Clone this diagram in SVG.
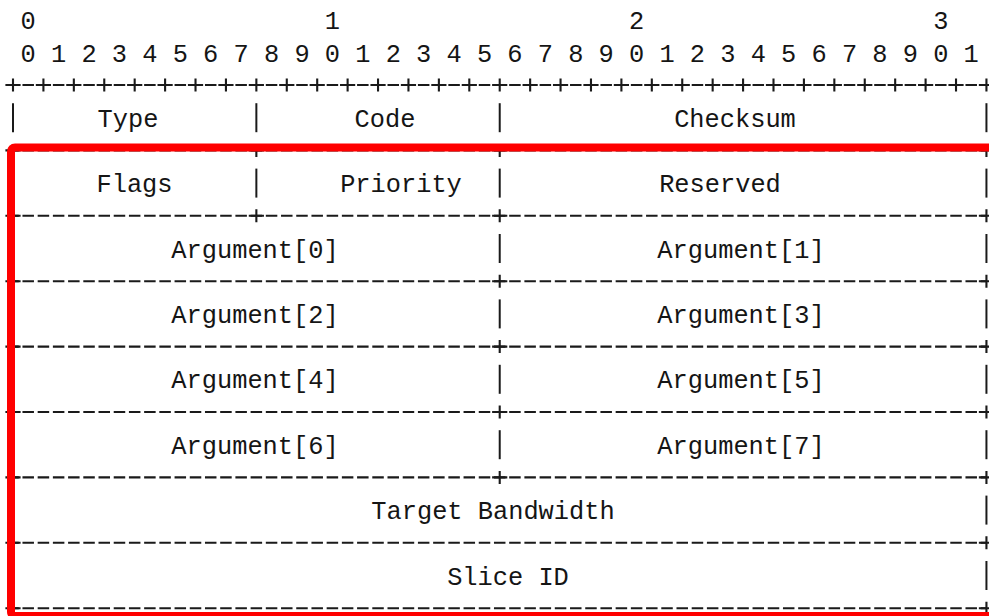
<svg xmlns="http://www.w3.org/2000/svg" xmlns:xlink="http://www.w3.org/1999/xlink" width="989" height="616" viewBox="0 0 989 616">
<style>
  text { font-family: "Liberation Mono", "DejaVu Sans Mono", monospace; font-size: 25.35px; fill: #151515; text-anchor: middle; }
  .rule { stroke: #1a1a1a; stroke-width: 2.1; fill: none; }
  .dash { stroke: #1a1a1a; stroke-width: 2.1; fill: none; stroke-dasharray: 11.5 3.71; stroke-dashoffset: 5.75; }
  .bar { stroke: #1a1a1a; stroke-width: 2; }
  .hl { fill: none; stroke: #ff0000; stroke-width: 8; }
</style>
<defs>
  <path id="plus" class="rule" d="M-7.6 0H7.6M0 -6.5V6.5"/>
  <line id="bar" class="bar" x1="0" y1="-14.5" x2="0" y2="14.5"/>
</defs>
<rect width="989" height="616" fill="#ffffff"/>

<g id="ruler">
  <text x="28.21 332.41 636.61 940.81" y="29.3">0123</text>
  <text x="28.21 58.63 89.05 119.47 149.89 180.31 210.73 241.15 271.57 301.99 332.41 362.83 393.25 423.67 454.09 484.51 514.93 545.35 575.77 606.19 636.61 667.03 697.45 727.87 758.29 788.71 819.13 849.55 879.97 910.39 940.81 971.23" y="61.5">01234567890123456789012345678901</text>
</g>

<g id="connectors">
  <!-- horizontal separators -->
  <path class="dash" d="M13 85H986.44M13 150.4H986.44M13 215.8H986.44M13 281.2H986.44M13 346.6H986.44M13 412H986.44M13 477.4H986.44M13 542.8H986.44M13 608.2H986.44"/>
  <!-- top ruler plus marks -->
  <use xlink:href="#plus" x="13" y="85"/><use xlink:href="#plus" x="43.42" y="85"/><use xlink:href="#plus" x="73.84" y="85"/><use xlink:href="#plus" x="104.26" y="85"/>
  <use xlink:href="#plus" x="134.68" y="85"/><use xlink:href="#plus" x="165.1" y="85"/><use xlink:href="#plus" x="195.52" y="85"/><use xlink:href="#plus" x="225.94" y="85"/>
  <use xlink:href="#plus" x="256.36" y="85"/><use xlink:href="#plus" x="286.78" y="85"/><use xlink:href="#plus" x="317.2" y="85"/><use xlink:href="#plus" x="347.62" y="85"/>
  <use xlink:href="#plus" x="378.04" y="85"/><use xlink:href="#plus" x="408.46" y="85"/><use xlink:href="#plus" x="438.88" y="85"/><use xlink:href="#plus" x="469.3" y="85"/>
  <use xlink:href="#plus" x="499.72" y="85"/><use xlink:href="#plus" x="530.14" y="85"/><use xlink:href="#plus" x="560.56" y="85"/><use xlink:href="#plus" x="590.98" y="85"/>
  <use xlink:href="#plus" x="621.4" y="85"/><use xlink:href="#plus" x="651.82" y="85"/><use xlink:href="#plus" x="682.24" y="85"/><use xlink:href="#plus" x="712.66" y="85"/>
  <use xlink:href="#plus" x="743.08" y="85"/><use xlink:href="#plus" x="773.5" y="85"/><use xlink:href="#plus" x="803.92" y="85"/><use xlink:href="#plus" x="834.34" y="85"/>
  <use xlink:href="#plus" x="864.76" y="85"/><use xlink:href="#plus" x="895.18" y="85"/><use xlink:href="#plus" x="925.6" y="85"/><use xlink:href="#plus" x="956.02" y="85"/>
  <use xlink:href="#plus" x="986.44" y="85"/>
  <!-- line under Type/Code/Checksum -->
  <use xlink:href="#plus" x="13" y="150.4"/><use xlink:href="#plus" x="256.36" y="150.4"/><use xlink:href="#plus" x="499.72" y="150.4"/><use xlink:href="#plus" x="986.44" y="150.4"/>
  <!-- line under Flags/Priority/Reserved -->
  <use xlink:href="#plus" x="13" y="215.8"/><use xlink:href="#plus" x="256.36" y="215.8"/><use xlink:href="#plus" x="499.72" y="215.8"/><use xlink:href="#plus" x="986.44" y="215.8"/>
  <!-- argument lines -->
  <use xlink:href="#plus" x="13" y="281.2"/><use xlink:href="#plus" x="499.72" y="281.2"/><use xlink:href="#plus" x="986.44" y="281.2"/>
  <use xlink:href="#plus" x="13" y="346.6"/><use xlink:href="#plus" x="499.72" y="346.6"/><use xlink:href="#plus" x="986.44" y="346.6"/>
  <use xlink:href="#plus" x="13" y="412"/><use xlink:href="#plus" x="499.72" y="412"/><use xlink:href="#plus" x="986.44" y="412"/>
  <use xlink:href="#plus" x="13" y="477.4"/><use xlink:href="#plus" x="499.72" y="477.4"/><use xlink:href="#plus" x="986.44" y="477.4"/>
  <use xlink:href="#plus" x="13" y="542.8"/><use xlink:href="#plus" x="986.44" y="542.8"/>
  <use xlink:href="#plus" x="13" y="608.2"/><use xlink:href="#plus" x="986.44" y="608.2"/>
  <!-- vertical bars -->
  <use xlink:href="#bar" x="13" y="117.7"/><use xlink:href="#bar" x="256.36" y="117.7"/><use xlink:href="#bar" x="499.72" y="117.7"/><use xlink:href="#bar" x="986.44" y="117.7"/>
  <use xlink:href="#bar" x="13" y="183.1"/><use xlink:href="#bar" x="256.36" y="183.1"/><use xlink:href="#bar" x="499.72" y="183.1"/><use xlink:href="#bar" x="986.44" y="183.1"/>
  <use xlink:href="#bar" x="13" y="248.5"/><use xlink:href="#bar" x="499.72" y="248.5"/><use xlink:href="#bar" x="986.44" y="248.5"/>
  <use xlink:href="#bar" x="13" y="313.9"/><use xlink:href="#bar" x="499.72" y="313.9"/><use xlink:href="#bar" x="986.44" y="313.9"/>
  <use xlink:href="#bar" x="13" y="379.3"/><use xlink:href="#bar" x="499.72" y="379.3"/><use xlink:href="#bar" x="986.44" y="379.3"/>
  <use xlink:href="#bar" x="13" y="444.7"/><use xlink:href="#bar" x="499.72" y="444.7"/><use xlink:href="#bar" x="986.44" y="444.7"/>
  <use xlink:href="#bar" x="13" y="510.1"/><use xlink:href="#bar" x="986.44" y="510.1"/>
  <use xlink:href="#bar" x="13" y="575.5"/><use xlink:href="#bar" x="986.44" y="575.5"/>
</g>

<g id="field-type"><text x="128" y="126.7">Type</text></g>
<g id="field-code"><text x="385" y="126.7">Code</text></g>
<g id="field-checksum"><text x="735" y="126.7">Checksum</text></g>
<g id="field-flags"><text x="134.5" y="192.1">Flags</text></g>
<g id="field-priority"><text x="401" y="192.1">Priority</text></g>
<g id="field-reserved"><text x="720" y="192.1">Reserved</text></g>
<g id="field-arg0"><text x="255" y="257.5">Argument[0]</text></g>
<g id="field-arg1"><text x="741" y="257.5">Argument[1]</text></g>
<g id="field-arg2"><text x="255" y="322.9">Argument[2]</text></g>
<g id="field-arg3"><text x="741" y="322.9">Argument[3]</text></g>
<g id="field-arg4"><text x="255" y="388.3">Argument[4]</text></g>
<g id="field-arg5"><text x="741" y="388.3">Argument[5]</text></g>
<g id="field-arg6"><text x="255" y="453.7">Argument[6]</text></g>
<g id="field-arg7"><text x="741" y="453.7">Argument[7]</text></g>
<g id="field-target-bandwidth"><text x="493" y="519.1">Target Bandwidth</text></g>
<g id="field-slice-id"><text x="508" y="584.5">Slice ID</text></g>

<g id="highlight">
  <rect class="hl" x="11" y="147.5" width="1000" height="468.5" rx="4"/>
</g>
</svg>
